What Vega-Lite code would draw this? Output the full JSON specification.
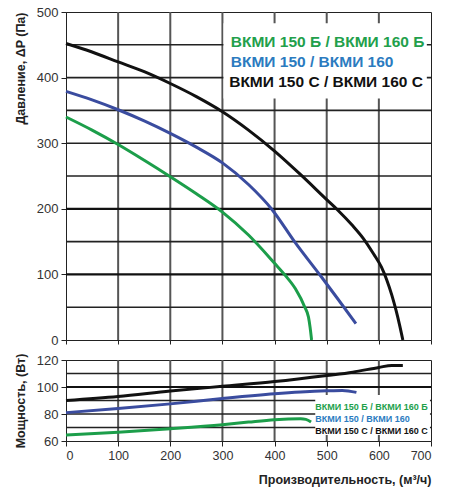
{
  "$schema": "https://vega.github.io/schema/vega-lite/v6.json",
  "padding": {"left": 13, "top": 5, "right": 5, "bottom": 5},
  "background": "white",
  "spacing": 20,
  "bounds": "flush",
  "config": {
    "view": {"stroke": "#222", "strokeWidth": 1},
    "font": "Liberation Sans",
    "axis": {
      "grid": false,
      "domainColor": "#222",
      "tickColor": "#222",
      "labelColor": "#333",
      "labelFont": "Liberation Sans",
      "labelOverlap": false,
      "titleFont": "Liberation Sans",
      "titleColor": "#222",
      "titleFontWeight": "bold",
      "titleFontSize": 12.5
    }
  },
  "datasets": {
    "pressure": [
      {"q": 0, "p": 452, "series": "C"}, {"q": 50, "p": 439, "series": "C"}, {"q": 100, "p": 424, "series": "C"},
      {"q": 150, "p": 409, "series": "C"}, {"q": 200, "p": 391, "series": "C"}, {"q": 250, "p": 371, "series": "C"},
      {"q": 300, "p": 348, "series": "C"}, {"q": 350, "p": 320, "series": "C"}, {"q": 400, "p": 288, "series": "C"},
      {"q": 450, "p": 252, "series": "C"}, {"q": 500, "p": 214, "series": "C"}, {"q": 520, "p": 199, "series": "C"},
      {"q": 550, "p": 174, "series": "C"}, {"q": 570, "p": 155, "series": "C"}, {"q": 590, "p": 131, "series": "C"},
      {"q": 605, "p": 111, "series": "C"}, {"q": 615, "p": 92, "series": "C"}, {"q": 625, "p": 68, "series": "C"},
      {"q": 633, "p": 45, "series": "C"}, {"q": 640, "p": 22, "series": "C"}, {"q": 646, "p": 0, "series": "C"},
      {"q": 0, "p": 379, "series": "std"}, {"q": 50, "p": 366, "series": "std"}, {"q": 100, "p": 351, "series": "std"},
      {"q": 150, "p": 334, "series": "std"}, {"q": 200, "p": 315, "series": "std"}, {"q": 250, "p": 294, "series": "std"},
      {"q": 300, "p": 270, "series": "std"}, {"q": 350, "p": 237, "series": "std"}, {"q": 395, "p": 199, "series": "std"},
      {"q": 440, "p": 148, "series": "std"}, {"q": 490, "p": 96, "series": "std"}, {"q": 520, "p": 64, "series": "std"},
      {"q": 556, "p": 25, "series": "std"},
      {"q": 0, "p": 340, "series": "B"}, {"q": 50, "p": 320, "series": "B"}, {"q": 100, "p": 298, "series": "B"},
      {"q": 150, "p": 274, "series": "B"}, {"q": 200, "p": 249, "series": "B"}, {"q": 250, "p": 223, "series": "B"},
      {"q": 300, "p": 195, "series": "B"}, {"q": 350, "p": 160, "series": "B"}, {"q": 400, "p": 117, "series": "B"},
      {"q": 420, "p": 99, "series": "B"}, {"q": 440, "p": 78, "series": "B"}, {"q": 458, "p": 50, "series": "B"},
      {"q": 465, "p": 35, "series": "B"}, {"q": 468, "p": 20, "series": "B"}, {"q": 471, "p": 0, "series": "B"}
    ],
    "power": [
      {"q": 0, "w": 90, "series": "C"}, {"q": 100, "w": 93, "series": "C"}, {"q": 200, "w": 97, "series": "C"},
      {"q": 300, "w": 100.5, "series": "C"}, {"q": 400, "w": 104, "series": "C"}, {"q": 500, "w": 108.5, "series": "C"},
      {"q": 550, "w": 111, "series": "C"}, {"q": 600, "w": 114.5, "series": "C"}, {"q": 625, "w": 116, "series": "C"},
      {"q": 646, "w": 116, "series": "C"},
      {"q": 0, "w": 81, "series": "std"}, {"q": 100, "w": 84, "series": "std"}, {"q": 200, "w": 87.5, "series": "std"},
      {"q": 300, "w": 91.5, "series": "std"}, {"q": 400, "w": 95, "series": "std"}, {"q": 450, "w": 96.3, "series": "std"},
      {"q": 500, "w": 97.2, "series": "std"}, {"q": 530, "w": 97.5, "series": "std"}, {"q": 557, "w": 96, "series": "std"},
      {"q": 0, "w": 64.5, "series": "B"}, {"q": 100, "w": 66.5, "series": "B"}, {"q": 200, "w": 69, "series": "B"},
      {"q": 300, "w": 72, "series": "B"}, {"q": 350, "w": 74, "series": "B"}, {"q": 400, "w": 75.8, "series": "B"},
      {"q": 450, "w": 76.5, "series": "B"}, {"q": 460, "w": 76, "series": "B"}, {"q": 470, "w": 74, "series": "B"}
    ]
  },
  "vconcat": [
    {
      "width": 365,
      "height": 328,
      "encoding": {
        "x": {
          "type": "quantitative",
          "scale": {"domain": [0, 700], "nice": false, "zero": false},
          "axis": {"values": [0, 100, 200, 300, 400, 500, 600, 700], "labels": false, "title": null, "domain": false, "tickSize": 4}
        },
        "y": {
          "type": "quantitative",
          "scale": {"domain": [0, 500], "nice": false, "zero": false},
          "axis": {
            "values": [0, 100, 200, 300, 400, 500],
            "labelFontSize": 13,
            "labelPadding": 3,
            "tickSize": 5,
            "title": "Давление, ΔP (Па)",
            "titleAnchor": "end",
            "titlePadding": 9
          }
        }
      },
      "layer": [
        {
          "data": {"values": [{"q": 100}, {"q": 200}, {"q": 300}, {"q": 400}, {"q": 500}, {"q": 600}]},
          "mark": {"type": "rule", "color": "#555", "strokeWidth": 2},
          "encoding": {"x": {"field": "q"}}
        },
        {
          "data": {"values": [{"p": 50}, {"p": 150}, {"p": 250}, {"p": 300}, {"p": 350}, {"p": 400}, {"p": 450}]},
          "mark": {"type": "rule", "color": "#222", "strokeWidth": 1.6},
          "encoding": {"y": {"field": "p"}}
        },
        {
          "data": {"values": [{"p": 100}, {"p": 200}]},
          "mark": {"type": "rule", "color": "#111", "strokeWidth": 2.2},
          "encoding": {"y": {"field": "p"}}
        },
        {
          "data": {"values": [{}]},
          "mark": {"type": "rect", "fill": "white"},
          "encoding": {"x": {"datum": 302}, "x2": {"datum": 692}, "y": {"datum": 368}, "y2": {"datum": 483}}
        },
        {
          "data": {"name": "pressure"},
          "mark": {"type": "line", "strokeWidth": 3, "interpolate": "monotone"},
          "encoding": {
            "x": {"field": "q"},
            "y": {"field": "p"},
            "color": {
              "field": "series", "type": "nominal", "legend": null,
              "scale": {"domain": ["B", "std", "C"], "range": ["#1c9e4a", "#3a4c9f", "#111111"]}
            },
            "detail": {"field": "series"}
          }
        },
        {
          "data": {"values": [{}]},
          "mark": {"type": "text", "text": "ВКМИ 150 Б / ВКМИ 160 Б", "align": "left", "baseline": "middle", "fontSize": 15.5, "fontWeight": "bold", "color": "#22a04b"},
          "encoding": {"x": {"datum": 316}, "y": {"datum": 454}}
        },
        {
          "data": {"values": [{}]},
          "mark": {"type": "text", "text": "ВКМИ 150 / ВКМИ 160", "align": "left", "baseline": "middle", "fontSize": 15.5, "fontWeight": "bold", "color": "#2b7bbf"},
          "encoding": {"x": {"datum": 316}, "y": {"datum": 424}}
        },
        {
          "data": {"values": [{}]},
          "mark": {"type": "text", "text": "ВКМИ 150 С / ВКМИ 160 С", "align": "left", "baseline": "middle", "fontSize": 15.5, "fontWeight": "bold", "color": "#111111"},
          "encoding": {"x": {"datum": 313}, "y": {"datum": 393}}
        }
      ]
    },
    {
      "width": 365,
      "height": 81,
      "encoding": {
        "x": {
          "type": "quantitative",
          "scale": {"domain": [0, 700], "nice": false, "zero": false},
          "axis": {"values": [0, 100, 200, 300, 400, 500, 600, 700], "labelFontSize": 12.5, "labelPadding": 3, "tickSize": 5, "domain": false, "title": "Производительность, (м³/ч)", "titleAnchor": "end", "titlePadding": 12}
        },
        "y": {
          "type": "quantitative",
          "scale": {"domain": [60, 120], "nice": false, "zero": false},
          "axis": {
            "values": [60, 80, 100, 120],
            "labelFontSize": 13,
            "labelPadding": 3,
            "tickSize": 5,
            "title": "Мощность, (Вт)",
            "titlePadding": 9
          }
        }
      },
      "layer": [
        {
          "data": {"values": [{"q": 100}, {"q": 200}, {"q": 300}, {"q": 400}, {"q": 500}, {"q": 600}]},
          "mark": {"type": "rule", "color": "#555", "strokeWidth": 2},
          "encoding": {"x": {"field": "q"}}
        },
        {
          "data": {"values": [{"w": 70}, {"w": 80}, {"w": 90}, {"w": 110}]},
          "mark": {"type": "rule", "color": "#222", "strokeWidth": 1.6},
          "encoding": {"y": {"field": "w"}}
        },
        {
          "data": {"values": [{"w": 100}]},
          "mark": {"type": "rule", "color": "#111", "strokeWidth": 2.2},
          "encoding": {"y": {"field": "w"}}
        },
        {
          "data": {"values": [{}]},
          "mark": {"type": "rect", "fill": "white"},
          "encoding": {"x": {"datum": 478}, "x2": {"datum": 698}, "y": {"datum": 64.5}, "y2": {"datum": 94}}
        },
        {
          "data": {"name": "power"},
          "mark": {"type": "line", "strokeWidth": 3, "interpolate": "monotone"},
          "encoding": {
            "x": {"field": "q"},
            "y": {"field": "w"},
            "color": {
              "field": "series", "type": "nominal", "legend": null,
              "scale": {"domain": ["B", "std", "C"], "range": ["#1c9e4a", "#3a4c9f", "#111111"]}
            },
            "detail": {"field": "series"}
          }
        },
        {
          "data": {"values": [{}]},
          "mark": {"type": "text", "text": "ВКМИ 150 Б / ВКМИ 160 Б", "align": "left", "baseline": "middle", "fontSize": 9, "fontWeight": "bold", "color": "#22a04b"},
          "encoding": {"x": {"datum": 478}, "y": {"datum": 85.4}}
        },
        {
          "data": {"values": [{}]},
          "mark": {"type": "text", "text": "ВКМИ 150 / ВКМИ 160", "align": "left", "baseline": "middle", "fontSize": 9, "fontWeight": "bold", "color": "#2b7bbf"},
          "encoding": {"x": {"datum": 478}, "y": {"datum": 76.6}}
        },
        {
          "data": {"values": [{}]},
          "mark": {"type": "text", "text": "ВКМИ 150 С / ВКМИ 160 С", "align": "left", "baseline": "middle", "fontSize": 9, "fontWeight": "bold", "color": "#111111"},
          "encoding": {"x": {"datum": 478}, "y": {"datum": 67.6}}
        }
      ]
    }
  ]
}
